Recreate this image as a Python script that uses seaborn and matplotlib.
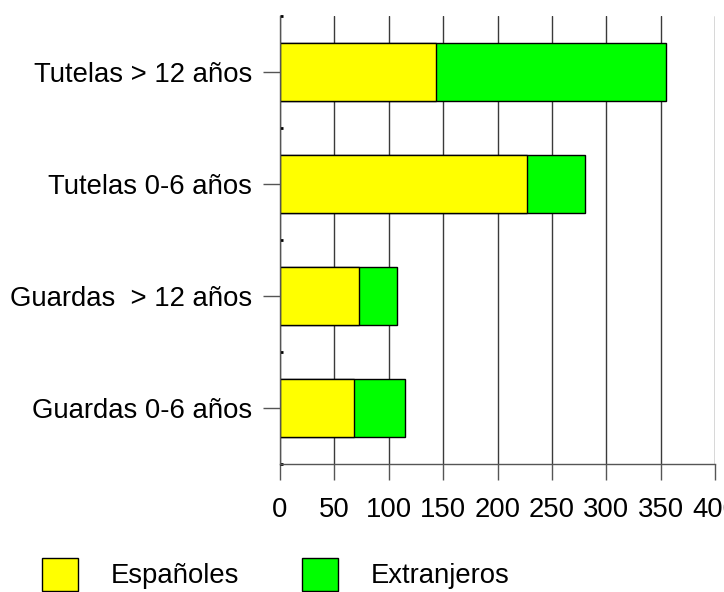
import pandas as pd
import numpy as np
import seaborn as sns
import matplotlib.pyplot as plt
from matplotlib.ticker import FixedLocator

categories = ["Tutelas > 12 años", "Tutelas 0-6 años", "Guardas  > 12 años", "Guardas 0-6 años"]
espanoles = [143, 227, 73, 68]
extranjeros = [212, 53, 35, 47]
x_ticks = [0, 50, 100, 150, 200, 250, 300, 350, 400]

sns.set_style("white")
plt.rcParams["font.family"] = ["Liberation Sans", "DejaVu Sans"]
plt.rcParams["font.size"] = 19.8
plt.rcParams["text.color"] = "black"
plt.rcParams["xtick.labelcolor"] = "black"
plt.rcParams["ytick.labelcolor"] = "black"

df = pd.DataFrame({"categoria": categories, "Españoles": espanoles, "Extranjeros": extranjeros})
df["total"] = df["Españoles"] + df["Extranjeros"]

fig = plt.figure(figsize=(7.24, 5.92), dpi=100)
ax = fig.add_axes([280 / 724, 1 - 464.3 / 592, 435 / 724, 448.3 / 592])

# total bar in green, Spanish part drawn over it in yellow
sns.barplot(data=df, y="categoria", x="total", orient="h", color="#00ff00",
            edgecolor="black", linewidth=1, width=0.52, ax=ax, label="Extranjeros", saturation=1)
sns.barplot(data=df, y="categoria", x="Españoles", orient="h", color="#ffff00",
            edgecolor="black", linewidth=1, width=0.52, ax=ax, label="Españoles", saturation=1)

ax.set_xlim(0, 400)
ax.set_ylim(3.5, -0.5)
ax.xaxis.set_major_locator(FixedLocator(x_ticks))
ax.yaxis.set_minor_locator(FixedLocator([-0.5, 0.5, 1.5, 2.5, 3.5]))
ax.set_xlabel("")
ax.set_ylabel("")

ax.set_axisbelow(True)
ax.grid(axis="x", color="#3a3a3a", linewidth=1)
ax.grid(axis="y", visible=False)
sns.despine(ax=ax, top=True, right=True)
for s in ["left", "bottom"]:
    ax.spines[s].set_color("#555555")
    ax.spines[s].set_linewidth(1)

ax.tick_params(axis="x", direction="out", length=11.5, width=1, color="#555555", pad=12, labelsize=19.8, bottom=True)
ax.tick_params(axis="y", which="major", direction="out", length=12, width=1, color="#555555", pad=8, labelsize=19.8, left=True)
ax.tick_params(axis="y", which="minor", direction="in", length=2, width=2, color="black", left=True)

handles, labels = ax.get_legend_handles_labels()
if ax.get_legend() is not None:
    ax.get_legend().remove()
order = [labels.index("Españoles"), labels.index("Extranjeros")]
fig.legend([handles[i] for i in order], [labels[i] for i in order],
           loc="upper left", bbox_to_anchor=(42 / 724, 1 - 558 / 592), ncol=2,
           frameon=False, borderpad=0, borderaxespad=0, handlelength=1.3, handleheight=1.45,
           handletextpad=1.2, columnspacing=2.3, fontsize=19.8)

plt.savefig("out.png", dpi=100)
